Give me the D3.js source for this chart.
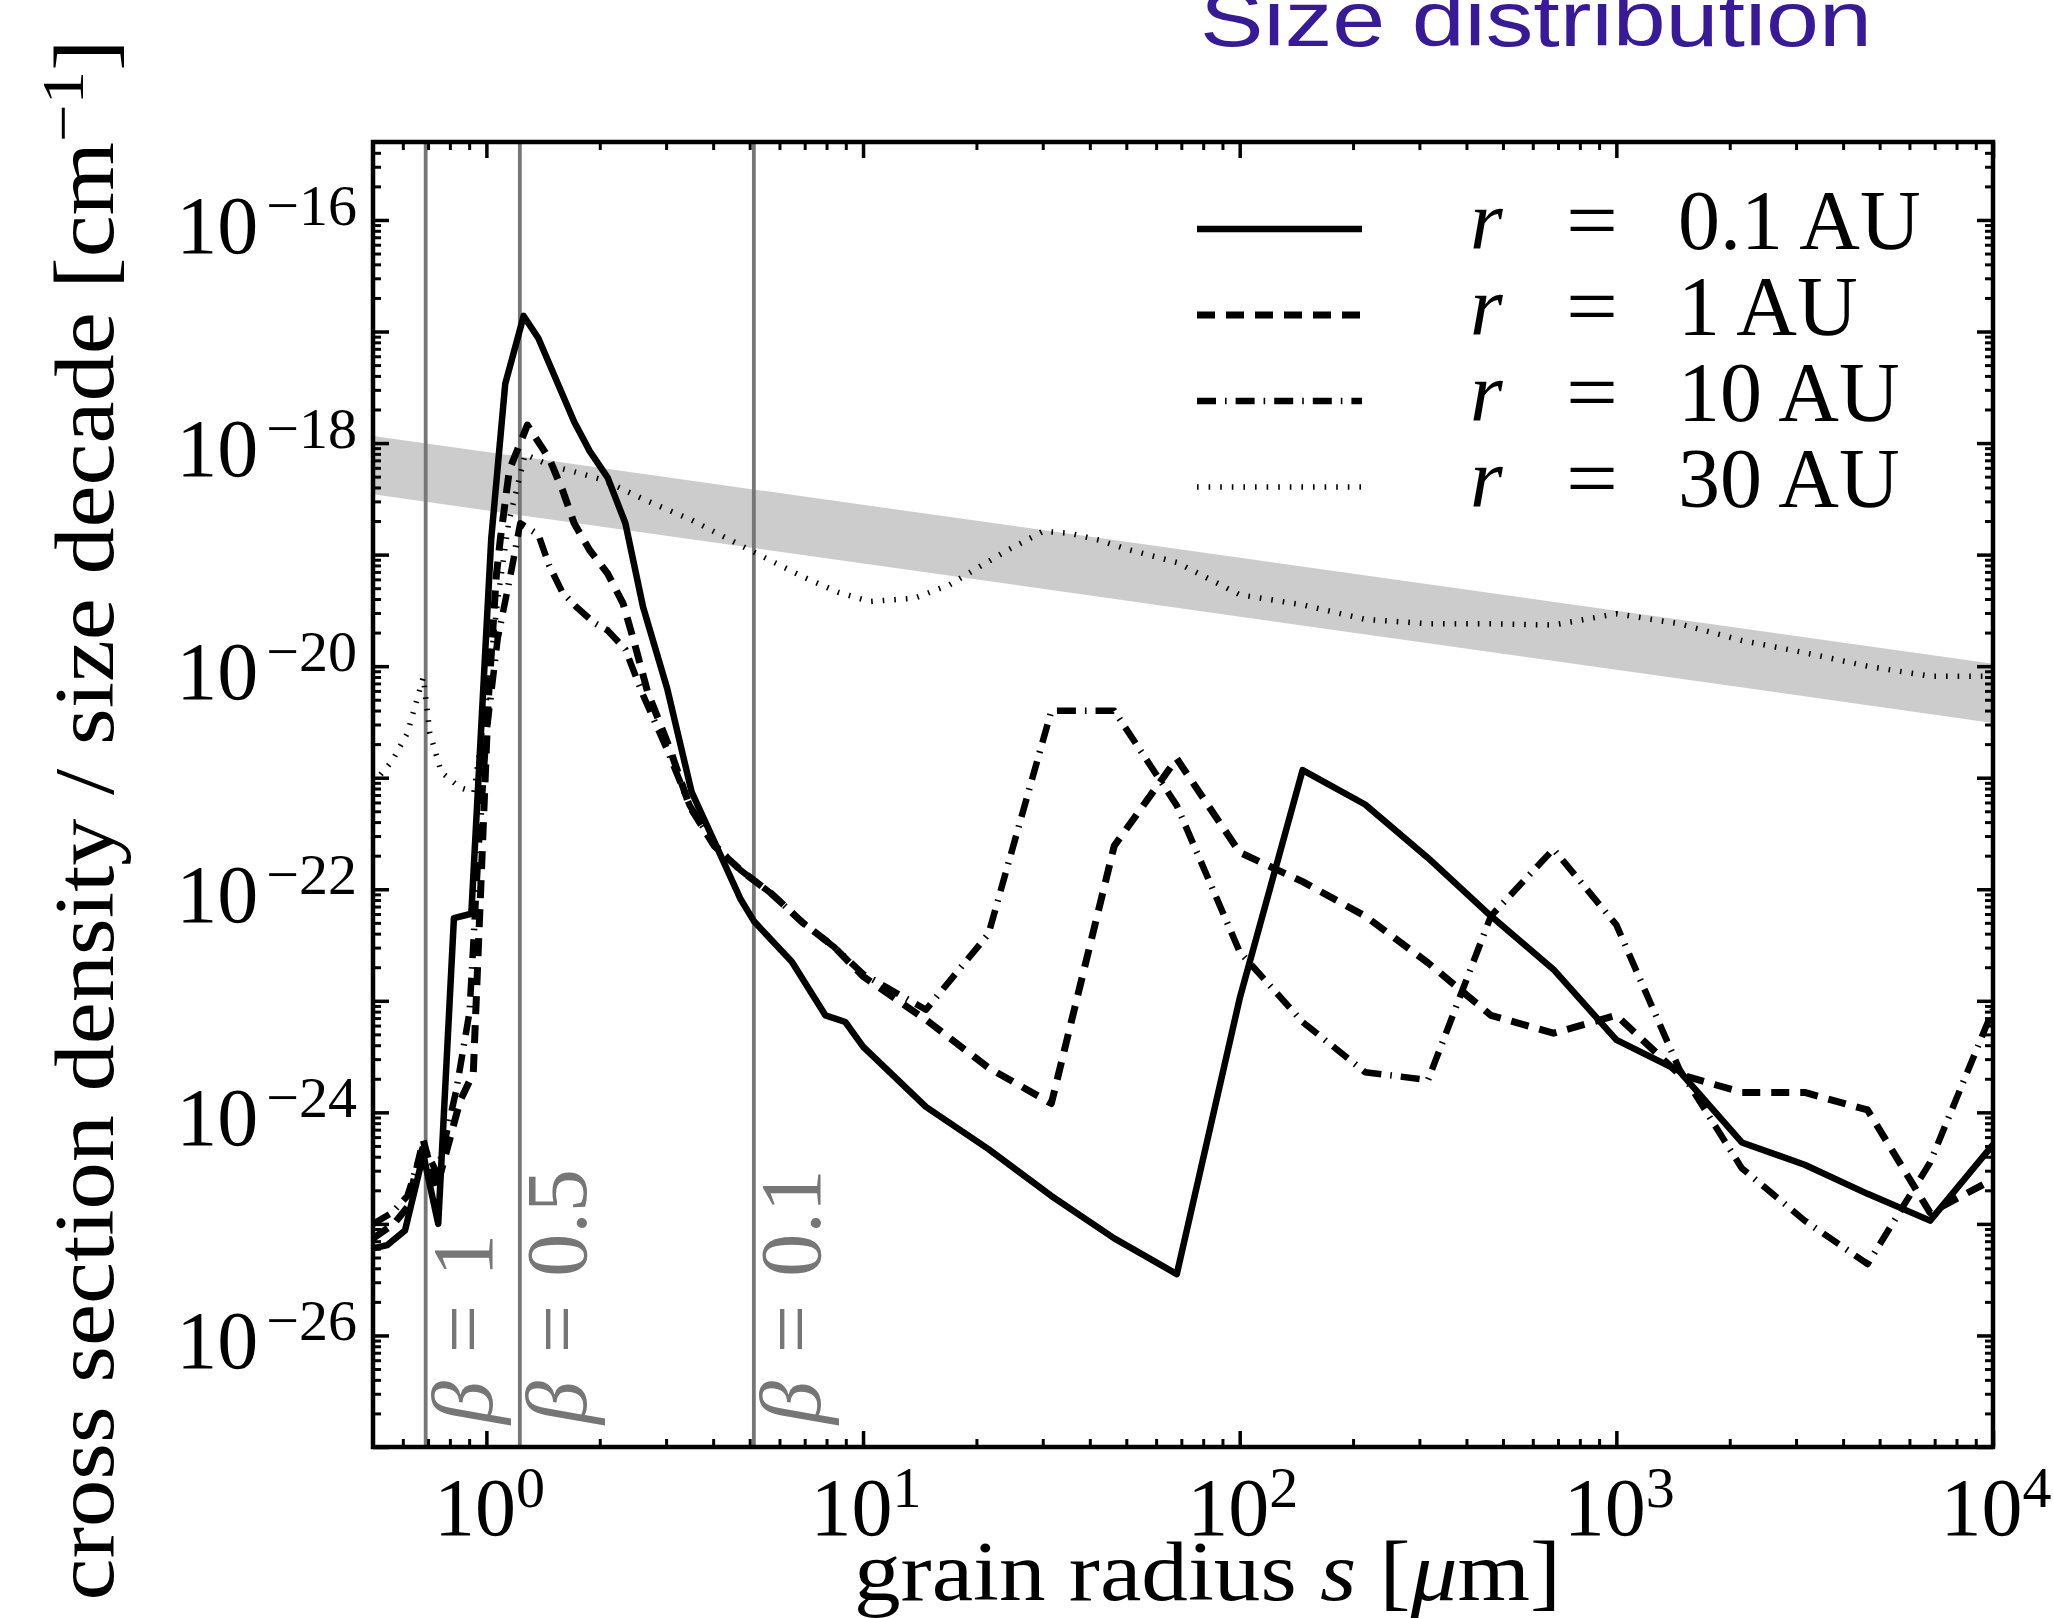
<!DOCTYPE html>
<html><head><meta charset="utf-8">
<script src="https://cdn.jsdelivr.net/npm/d3@7"></script>
<style>body{margin:0;background:#fff}svg{display:block}</style>
</head><body>
<svg id="c" width="2053" height="1618"></svg>
<script>
// ---------- data ----------
const seriesLabels = ["0.1 AU", "1 AU", "10 AU", "30 AU"];

const sizes01 = [0.5,0.546,0.608,0.68,0.745,0.82,0.912,1.03,1.122,1.256,1.374,1.71,1.879,2.099,2.339,2.606,3.02,3.508,4.027,4.732,5.14,6.471,7.943,8.974,10,14.69,21.53,31.62,46.45,68.08,100,146.9,215.3,316.2,464.5,680.8,1000,1469,2153,3162,4645,6808,10000];
const dens01 = [6.03e-26,6.46e-26,8.71e-26,4.17e-25,1.0e-25,5.50e-23,6.03e-23,1.38e-19,3.39e-18,1.38e-17,8.71e-18,1.55e-18,8.51e-19,4.90e-19,1.91e-19,3.39e-20,6.31e-21,7.41e-22,2.69e-22,8.13e-23,5.13e-23,2.24e-23,7.41e-24,6.46e-24,3.89e-24,1.12e-24,4.68e-25,1.78e-25,7.41e-26,3.55e-26,1.05e-23,1.17e-21,5.75e-22,1.91e-22,5.75e-23,1.91e-23,4.47e-24,2.34e-24,5.37e-25,3.39e-25,1.86e-25,1.07e-25,5.13e-25];

const sizes1 = [0.5,0.568,0.617,0.68,0.736,0.851,0.923,0.966,1.012,1.062,1.089,1.151,1.285,1.469,1.596,1.71,1.879,2.099,2.307,2.466,2.679,3.069,3.467,4.027,4.732,5.715,6.918,8.395,10,14.69,21.53,31.62,46.45,68.08,100,146.9,215.3,316.2,464.5,680.8,1000,1469,2153,3162,4645,6808,10000];
const dens1 = [7.41e-26,1.0e-25,1.41e-25,5.62e-25,2.04e-25,1.26e-24,2.24e-24,1.0e-22,5.01e-21,6.31e-20,1.38e-19,5.75e-19,1.45e-18,7.24e-19,3.72e-19,1.91e-19,1.10e-19,6.76e-20,3.63e-20,1.66e-20,5.89e-21,1.82e-21,5.50e-22,2.45e-22,1.48e-22,9.12e-23,5.01e-23,3.02e-23,1.66e-23,6.76e-24,2.51e-24,1.20e-24,2.45e-22,1.48e-21,2.14e-22,1.17e-22,5.75e-23,2.19e-23,7.41e-24,5.13e-24,7.41e-24,2.19e-24,1.51e-24,1.51e-24,1.05e-24,1.26e-25,2.51e-25];

const sizes10 = [0.5,0.562,0.617,0.68,0.741,0.832,0.902,0.955,1.0,1.072,1.167,1.23,1.374,1.469,1.592,1.734,1.932,2.099,2.339,2.606,3.02,3.467,4.027,4.732,5.715,6.918,8.395,10,14.69,21.53,31.62,46.45,68.08,100,146.9,215.3,316.2,464.5,680.8,1000,1469,2153,3162,4645,6808,10000];
const dens10 = [1.0e-25,1.26e-25,1.78e-25,5.01e-25,2.82e-25,1.58e-24,7.94e-24,2.51e-22,2.51e-21,1.78e-20,7.41e-20,1.91e-19,1.51e-19,7.94e-20,4.57e-20,3.39e-20,2.45e-20,2.09e-20,1.41e-20,5.50e-21,1.78e-21,5.62e-22,2.51e-22,1.48e-22,9.12e-23,5.01e-23,3.02e-23,1.74e-23,8.32e-24,3.98e-23,3.98e-21,3.98e-21,5.62e-22,2.75e-23,6.46e-24,2.29e-24,1.95e-24,5.75e-23,2.29e-22,4.79e-23,2.45e-24,3.16e-25,1.07e-25,4.37e-26,3.55e-25,8.32e-24];

const sizes30 = [0.5,0.562,0.617,0.68,0.708,0.759,0.853,0.927,1.0,1.072,1.148,1.268,1.469,1.683,2.037,2.679,3.508,5.0,6.934,8.63,10.42,13.71,16.98,20.56,24.27,30.06,35.48,42.36,50.12,68.08,100,146.9,215.3,316.2,464.5,680.8,1000,1469,2153,3162,4645,6808,10000];
const dens30 = [8.91e-22,1.41e-21,2.51e-21,7.94e-21,2.51e-21,1.12e-21,8.13e-22,7.41e-22,5.01e-21,3.98e-20,2.0e-19,7.94e-19,6.31e-19,5.62e-19,4.68e-19,3.02e-19,2.04e-19,1.10e-19,6.31e-20,4.57e-20,3.80e-20,4.07e-20,5.37e-20,7.94e-20,1.10e-19,1.62e-19,1.55e-19,1.35e-19,1.12e-19,8.51e-20,4.37e-20,3.55e-20,2.63e-20,2.40e-20,2.40e-20,2.34e-20,2.95e-20,2.40e-20,1.70e-20,1.32e-20,1.0e-20,8.13e-21,8.13e-21];

const bandSizes = [0.5, 10000];
const bandUpper = [1.16e-18, 1.05e-20];
const bandLower = [3.47e-19, 3.1e-21];

const betaSizes = [0.69, 1.227, 5.13];
const betaLabels = ["1", "0.5", "0.1"];

const xMajor = [1, 10, 100, 1000, 10000];
const xLabelExp = ["0", "1", "2", "3", "4"];
const yLabelExp = [-16, -18, -20, -22, -24, -26];

// ---------- layout ----------
const m = {left: 373, right: 1993, top: 142, bottom: 1447};
const x = d3.scaleLog().domain([0.5, 1e4]).range([m.left, m.right]);
const y = d3.scaleLog().domain([1e-27, 5e-16]).range([m.bottom, m.top]);
const serif = "'Liberation Serif','Times New Roman',serif";

const svg = d3.select("#c");
svg.append("rect").attr("width", 2053).attr("height", 1618).attr("fill", "#fff");
svg.append("clipPath").attr("id", "clip").append("rect")
  .attr("x", m.left).attr("y", m.top).attr("width", m.right - m.left).attr("height", m.bottom - m.top);
const plot = svg.append("g").attr("clip-path", "url(#clip)");

// band
const bandData = bandSizes.map((s, i) => [s, bandUpper[i]]).concat(bandSizes.map((s, i) => [s, bandLower[i]]).reverse());
plot.append("path").attr("d", d3.line().x(d => x(d[0])).y(d => y(d[1]))(bandData) + "Z")
  .attr("fill", "#cccccc").attr("stroke", "none");

// beta lines
plot.selectAll(".beta").data(betaSizes).join("line")
  .attr("x1", d => x(d)).attr("x2", d => x(d)).attr("y1", m.top).attr("y2", m.bottom)
  .attr("stroke", "#767676").attr("stroke-width", 3.8);

// curves
const styles = [
  {w: 6.5, dash: null},
  {w: 7, dash: "18,11"},
  {w: 6.5, dash: "19,9,1.6,9"},
  {w: 5.5, dash: "1.6,10"}
];
const series = [d3.zip(sizes01, dens01), d3.zip(sizes1, dens1), d3.zip(sizes10, dens10), d3.zip(sizes30, dens30)];
const line = d3.line().x(d => x(d[0])).y(d => y(d[1]));
series.forEach((s, i) => {
  plot.append("path").attr("d", line(s)).attr("fill", "none").attr("stroke", "#000")
    .attr("stroke-width", styles[i].w).attr("stroke-dasharray", styles[i].dash)
    .attr("stroke-linejoin", "round").attr("stroke-linecap", "butt");
});

// beta labels
betaSizes.forEach((b, i) => {
  const t = svg.append("text").attr("transform", `translate(${x(b) + 66},1424) rotate(-90)`)
    .attr("font-family", serif).attr("font-size", 86).attr("fill", "#767676");
  t.append("tspan").attr("font-style", "italic").text("β");
  t.append("tspan").attr("dx", 28).text("=");
  t.append("tspan").attr("dx", 28).text(betaLabels[i]);
});

// axes ticks
const xMinor = [];
[0.1, 1, 10, 100, 1000].forEach(d => { for (let k = 2; k <= 9; k++) { const v = k * d; if (v >= 0.5 && v <= 1e4) xMinor.push(v); } });
const yMajor = [], yMinor = [];
for (let e = -27; e <= -16; e++) {
  yMajor.push(Math.pow(10, e));
  for (let k = 2; k <= 9; k++) { const v = k * Math.pow(10, e); if (v <= 5e-16) yMinor.push(v); }
}
function ax(gen, tr, vals, size, w) {
  svg.append("g").attr("transform", tr)
    .call(gen.tickValues(vals).tickSizeInner(-size).tickSizeOuter(0).tickFormat(""))
    .call(g => g.select(".domain").remove())
    .call(g => g.selectAll("line").attr("stroke", "#000").attr("stroke-width", w));
}
ax(d3.axisBottom(x), `translate(0,${m.bottom})`, xMajor, 16, 3.5);
ax(d3.axisBottom(x), `translate(0,${m.bottom})`, xMinor, 8, 3);
ax(d3.axisTop(x), `translate(0,${m.top})`, xMajor, 16, 3.5);
ax(d3.axisTop(x), `translate(0,${m.top})`, xMinor, 8, 3);
ax(d3.axisLeft(y), `translate(${m.left},0)`, yMajor, 16, 3.5);
ax(d3.axisLeft(y), `translate(${m.left},0)`, yMinor, 8, 3);
ax(d3.axisRight(y), `translate(${m.right},0)`, yMajor, 16, 3.5);
ax(d3.axisRight(y), `translate(${m.right},0)`, yMinor, 8, 3);

svg.append("rect").attr("x", m.left).attr("y", m.top).attr("width", m.right - m.left).attr("height", m.bottom - m.top)
  .attr("fill", "none").attr("stroke", "#000").attr("stroke-width", 4.5);

// tick labels
xMajor.forEach((v, i) => {
  const t = svg.append("text").attr("x", x(v) + 3).attr("y", 1535).attr("text-anchor", "middle")
    .attr("font-family", serif).attr("font-size", 82).attr("fill", "#000");
  t.append("tspan").text("10");
  t.append("tspan").attr("dy", -28).attr("font-size", 58).text(xLabelExp[i]);
});
yLabelExp.forEach(e => {
  const yy = y(Math.pow(10, e));
  const t = svg.append("text").attr("x", 357).attr("y", yy + 33).attr("text-anchor", "end")
    .attr("font-family", serif).attr("font-size", 82).attr("fill", "#000");
  t.append("tspan").text("10");
  t.append("tspan").attr("dx", 8).attr("dy", -28).attr("font-size", 58).text("−" + Math.abs(e));
});

// axis titles
const xl = svg.append("text").attr("x", 854).attr("y", 1600).attr("font-family", serif).attr("font-size", 85)
  .attr("textLength", 707).attr("lengthAdjust", "spacingAndGlyphs").attr("fill", "#000");
xl.append("tspan").text("grain radius ");
xl.append("tspan").attr("font-style", "italic").text("s");
xl.append("tspan").text(" [");
xl.append("tspan").attr("font-style", "italic").text("μ");
xl.append("tspan").text("m]");

const yl = svg.append("text").attr("transform", "translate(113,820) rotate(-90)").attr("text-anchor", "middle")
  .attr("font-family", serif).attr("font-size", 85).attr("fill", "#000")
  .attr("textLength", 1561).attr("lengthAdjust", "spacingAndGlyphs");
yl.append("tspan").text("cross section density / size decade [cm");
yl.append("tspan").attr("dy", -30).attr("font-size", 60).text("−1");
yl.append("tspan").attr("dy", 30).text("]");

// legend
const legY = [229, 315, 401, 487];
styles.forEach((s, i) => {
  svg.append("line").attr("x1", 1197).attr("x2", 1362).attr("y1", legY[i]).attr("y2", legY[i])
    .attr("stroke", "#000").attr("stroke-width", s.w).attr("stroke-dasharray", s.dash);
  const g = svg.append("g").attr("font-family", serif).attr("font-size", 84).attr("fill", "#000");
  g.append("text").attr("x", 1470).attr("y", legY[i] + 20).attr("font-style", "italic").text("r");
  g.append("text").attr("x", 1566).attr("y", legY[i] + 20).attr("textLength", 52).attr("lengthAdjust", "spacingAndGlyphs").text("=");
  g.append("text").attr("x", 1678).attr("y", legY[i] + 20).text(seriesLabels[i]);
});

// title (cut at the top, as in the reference)
svg.append("text").attr("x", 1200).attr("y", 46).attr("font-family", "'Liberation Sans',Arial,sans-serif")
  .attr("font-size", 78).attr("fill", "#371a94").attr("textLength", 672).attr("lengthAdjust", "spacingAndGlyphs")
  .text("Size distribution");
</script>
</body></html>
